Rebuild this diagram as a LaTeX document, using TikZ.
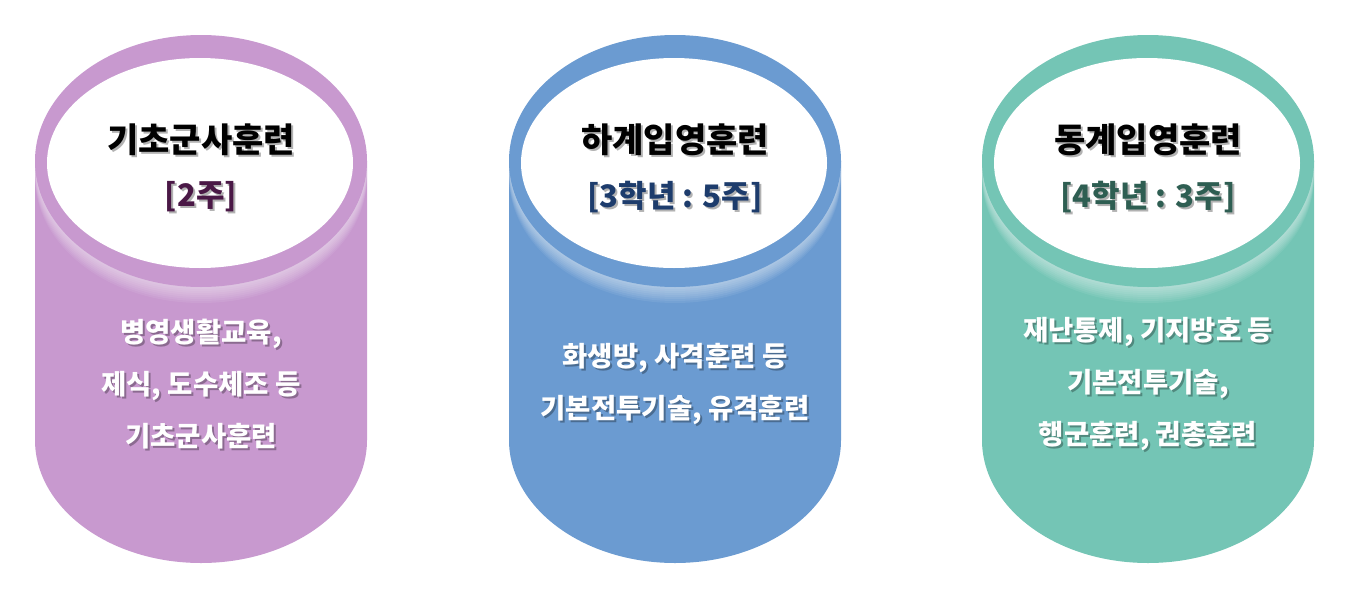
\documentclass[tikz,border=0pt]{standalone}
\usepackage{fontspec}
\setmainfont{Noto Sans CJK KR}
\usetikzlibrary{calc}
\definecolor{lilac}{HTML}{C899CF}
\definecolor{lilacdk}{HTML}{4A1846}
\definecolor{steel}{HTML}{6B9BD1}
\definecolor{steeldk}{HTML}{1D3C6C}
\definecolor{jade}{HTML}{74C5B5}
\definecolor{jadedk}{HTML}{2E5E52}
\tikzset{
  ttl/.style={font=\fontsize{34}{34}\selectfont\bfseries, text=black, inner sep=0pt},
  sub/.style={font=\fontsize{31}{31}\selectfont\bfseries, inner sep=0pt},
  bodytxt/.style={font=\fontsize{27.5}{52}\selectfont\bfseries, text=white, align=center, inner sep=0pt},
  shd/.style={text=black, opacity=0.3},
  glow/.style={fill=white, opacity=0.07},
}

\begin{document}
\begin{tikzpicture}[x=1pt, y=1pt]
  \useasboundingbox (0,0) rectangle (1354,-613);
  \foreach \i/\cx/\col/\dk/\head/\weeks/\body in {
    1/201/lilac/lilacdk/{기초군사훈련}/{[2주]}/{병영생활교육,\\제식, 도수체조 등\\기초군사훈련},
    2/675/steel/steeldk/{하계입영훈련}/{[3학년 : 5주]}/{화생방, 사격훈련 등\\기본전투기술, 유격훈련},
    3/1148/jade/jadedk/{동계입영훈련}/{[4학년 : 3주]}/{재난통제, 기지방호 등\\기본전투기술,\\행군훈련, 권총훈련}} {
    % drum body
    \fill[\col] (\cx-166,-161) -- (\cx-166,-440) arc[start angle=180, end angle=360, x radius=166, y radius=123]
      -- (\cx+166,-161) -- cycle;
    \begin{scope}
      \clip (\cx-166,-161) -- (\cx-166,-440) arc[start angle=180, end angle=360, x radius=166, y radius=123]
        -- (\cx+166,-161) -- cycle;
      \foreach \k in {2,4,...,16}
        \fill[glow] (\cx,-161-\k) ellipse[x radius=166, y radius=126];
    \end{scope}
    % top rim and lid
    \fill[\col] (\cx,-161) ellipse[x radius=166, y radius=126];
    \fill[white] (\cx-1,-163) ellipse[x radius=153, y radius=105];
    % texts
    \node[ttl, shd] (ts\i) at (\cx+2,-142) {\head};
    \node[ttl] (t\i) at (\cx,-140) {\head};
    \node[sub, shd] (ws\i) at (\cx+2,-199) {\weeks};
    \node[sub, text=\dk] (w\i) at (\cx,-197) {\weeks};
    \node[bodytxt, shd] (bs\i) at (\cx+2,-386) {\body};
    \node[bodytxt] (b\i) at (\cx,-384) {\body};
  }
\end{tikzpicture}
\end{document}
